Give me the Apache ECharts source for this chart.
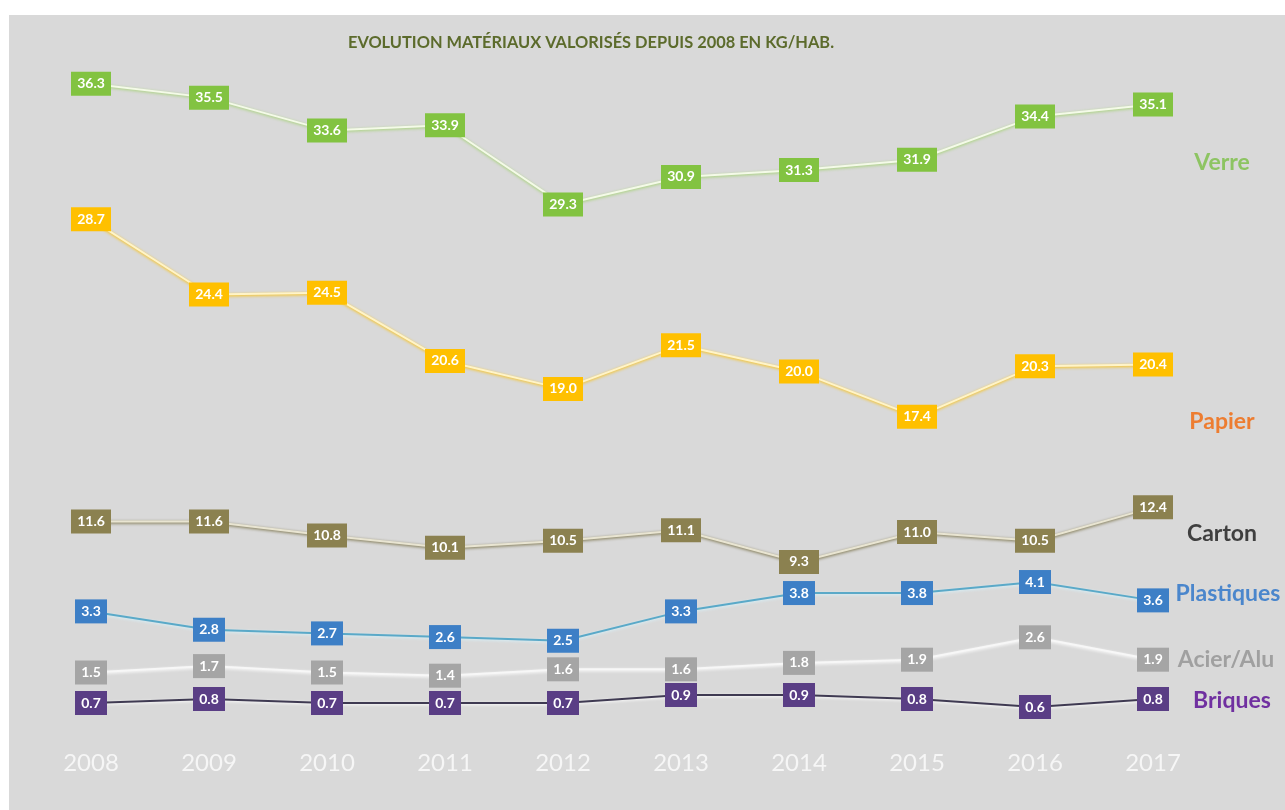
<!DOCTYPE html>
<html>
<head>
<meta charset="utf-8">
<script src="https://cdn.jsdelivr.net/npm/echarts@6/dist/echarts.min.js"></script>
<style>
  html, body { margin: 0; padding: 0; background: #ffffff; }
  #chart { width: 1285px; height: 810px; }
</style>
</head>
<body>
<div id="chart"></div>
<script>
// données (kg/hab.)
const years = ["2008", "2009", "2010", "2011", "2012", "2013", "2014", "2015", "2016", "2017"];
const verre = [36.3, 35.5, 33.6, 33.9, 29.3, 30.9, 31.3, 31.9, 34.4, 35.1];
const papier = [28.7, 24.4, 24.5, 20.6, 19.0, 21.5, 20.0, 17.4, 20.3, 20.4];
const carton = [11.6, 11.6, 10.8, 10.1, 10.5, 11.1, 9.3, 11.0, 10.5, 12.4];
const plastiques = [3.3, 2.8, 2.7, 2.6, 2.5, 3.3, 3.8, 3.8, 4.1, 3.6];
const acierAlu = [1.5, 1.7, 1.5, 1.4, 1.6, 1.6, 1.8, 1.9, 2.6, 1.9];
const briques = [0.7, 0.8, 0.7, 0.7, 0.7, 0.9, 0.9, 0.8, 0.6, 0.8];
const seriesNames = ["Verre", "Papier", "Carton", "Plastiques", "Acier/Alu", "Briques"];
const seriesData = [verre, papier, carton, plastiques, acierAlu, briques];
const titleText = "EVOLUTION MATÉRIAUX VALORISÉS DEPUIS 2008 EN KG/HAB.";

// zone du graphique
const gridTop = 40;
const gridBottom = 740;

// chaque série a son propre axe (caché) : position du zéro et pixels par unité
const styles = [
  { box: "#82c341", line: "#f4fae8", glow: "#9fd26a", zero: 710, scale: 17.25, size: [40, 24], name: "#8dc462", nx: 1222, ny: 163 },
  { box: "#ffc000", line: "#fff4c8", glow: "#ffc000", zero: 721, scale: 17.48, size: [40, 24], name: "#ed7d31", nx: 1222, ny: 422 },
  { box: "#8b8150", line: "#e9e5d2", glow: "#6f6638", zero: 725.6, scale: 17.6, size: [40, 24], name: "#3f3f3f", nx: 1222, ny: 534 },
  { box: "#3d7fc6", line: "#5aa9c8", glow: "#d6f2fb", zero: 732.5, scale: 36.7, size: [32, 24], name: "#4a86cc", nx: 1228, ny: 594 },
  { box: "#a5a5a5", line: "#f7f7f7", glow: "#ffffff", zero: 720.5, scale: 32, size: [32, 24], name: "#a0a0a0", nx: 1226, ny: 660 },
  { box: "#5a3e85", line: "#3f3a52", glow: "#ffffff", zero: 731, scale: 40, size: [32, 24], name: "#7030a0", nx: 1232, ny: 701 },
];

const fontFamily = "Lato, 'Open Sans', sans-serif";

function fitAxis(zero, scale) {
  return {
    min: (zero - gridBottom) / scale,
    max: (zero - gridTop) / scale,
  };
}

const chart = echarts.init(document.getElementById("chart"));

const option = {
  animation: false,
  backgroundColor: "#d9d9d9",
  grid: {
    left: 32,
    right: 73,
    top: gridTop,
    bottom: 810 - gridBottom,
  },
  xAxis: {
    type: "category",
    data: years,
    boundaryGap: true,
    axisLine: { show: false },
    axisTick: { show: false },
    splitLine: { show: false },
    axisLabel: {
      color: "rgba(255,255,255,0.75)",
      fontSize: 24,
      fontFamily: fontFamily,
      margin: 11,
    },
  },
  yAxis: styles.map((s) => ({
    type: "value",
    show: false,
    splitLine: { show: false },
    ...fitAxis(s.zero, s.scale),
  })),
  series: seriesNames.map((name, i) => ({
    name: name,
    type: "line",
    yAxisIndex: i,
    data: seriesData[i],
    symbol: "rect",
    symbolSize: styles[i].size,
    itemStyle: { color: styles[i].box },
    lineStyle: {
      color: styles[i].line,
      width: 2,
      shadowColor: styles[i].glow,
      shadowBlur: 3,
      shadowOffsetY: 1,
    },
    label: {
      show: true,
      position: "inside",
      color: "#ffffff",
      fontWeight: "bold",
      fontSize: 14,
      fontFamily: fontFamily,
      formatter: (p) => p.value.toFixed(1),
    },
    z: 2 + i,
  })),
  graphic: [
    // bordure blanche
    { type: "rect", shape: { x: 0, y: 0, width: 1285, height: 15 }, style: { fill: "#ffffff" }, silent: true },
    { type: "rect", shape: { x: 0, y: 0, width: 9, height: 810 }, style: { fill: "#ffffff" }, silent: true },
    {
      type: "text",
      x: 591,
      y: 43,
      style: {
        text: titleText,
        fill: "#5c6b2c",
        font: "bold 16.4px " + fontFamily,
        textAlign: "center",
        textVerticalAlign: "middle",
      },
    },
    ...seriesNames.map((name, i) => ({
      type: "text",
      x: styles[i].nx,
      y: styles[i].ny,
      style: {
        text: name,
        fill: styles[i].name,
        font: "bold 23px " + fontFamily,
        textAlign: "center",
        textVerticalAlign: "middle",
      },
    })),
  ],
};

chart.setOption(option);
</script>
</body>
</html>
